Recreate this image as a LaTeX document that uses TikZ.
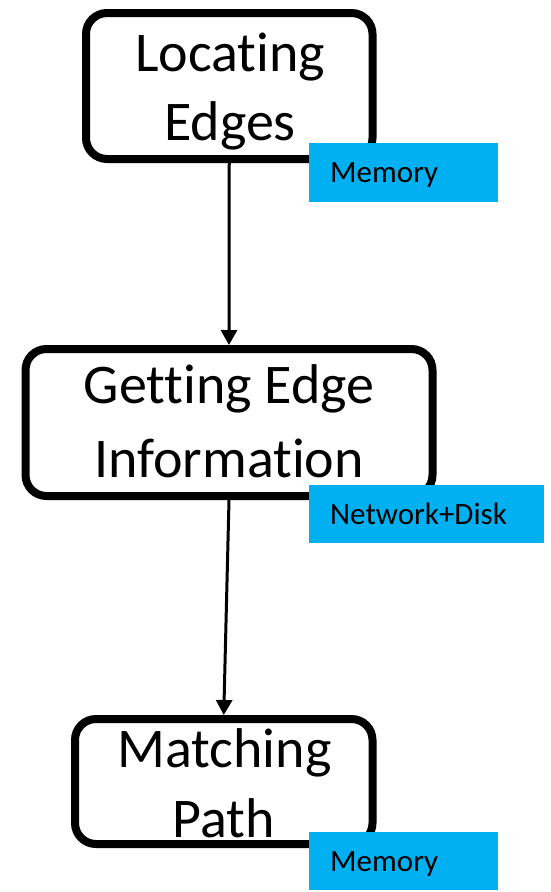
\documentclass[tikz,border=0pt]{standalone}
\usepackage{fontspec}
\setmainfont[Ligatures={NoCommon,NoRare}]{Carlito}
\usetikzlibrary{arrows.meta}
\definecolor{tagblue}{HTML}{00B0F0}
\begin{document}
\begin{tikzpicture}[x=1pt,y=-1pt,
  stagebox/.style={draw=black, line width=8pt, rounded corners=21pt, fill=white, inner sep=0pt},
  bigtxt/.style={font=\fontsize{56}{66}\selectfont, anchor=base, inner sep=0pt},
  tag/.style={fill=tagblue, anchor=north west, inner xsep=21pt, inner ysep=0pt, align=left,
    text height=20pt, text depth=0pt, font=\fontsize{31}{36}\selectfont},
  flow/.style={line width=3pt, -{Triangle[width=16pt,length=15pt]}}]
\useasboundingbox (0,0) rectangle (551,892);
% stage boxes
\node[stagebox, minimum width=286.5pt, minimum height=146pt] (b1) at (229.25,86) {};
\node[stagebox, minimum width=407pt, minimum height=147pt] (b2) at (229,422.5) {};
\node[stagebox, minimum width=297.5pt, minimum height=125pt] (b3) at (223.75,781.5) {};
% texts
\node[bigtxt] (t1a) at (230,71) {Locating};
\node[bigtxt] (t1b) at (230,140) {Edges};
\node[bigtxt] (t2a) at (229,403) {Getting Edge};
\node[bigtxt] (t2b) at (229,477) {Information};
\node[bigtxt] (t3a) at (224.5,767) {Matching};
\node[bigtxt] (t3b) at (224,837) {Path};
% connectors
\draw[flow] (b1.south) -- (b2.north);
\draw[flow] (b2.south) -- (b3.north);
% resource tags
\node[tag, minimum width=189pt, minimum height=59pt, text width=147pt] (m1) at (309,143) {Memory};
\node[tag, minimum width=235pt, minimum height=58pt, text width=193pt] (m2) at (309,485) {Network+Disk};
\node[tag, minimum width=189pt, minimum height=58pt, text width=147pt] (m3) at (309,832) {Memory};
\end{tikzpicture}
\end{document}
